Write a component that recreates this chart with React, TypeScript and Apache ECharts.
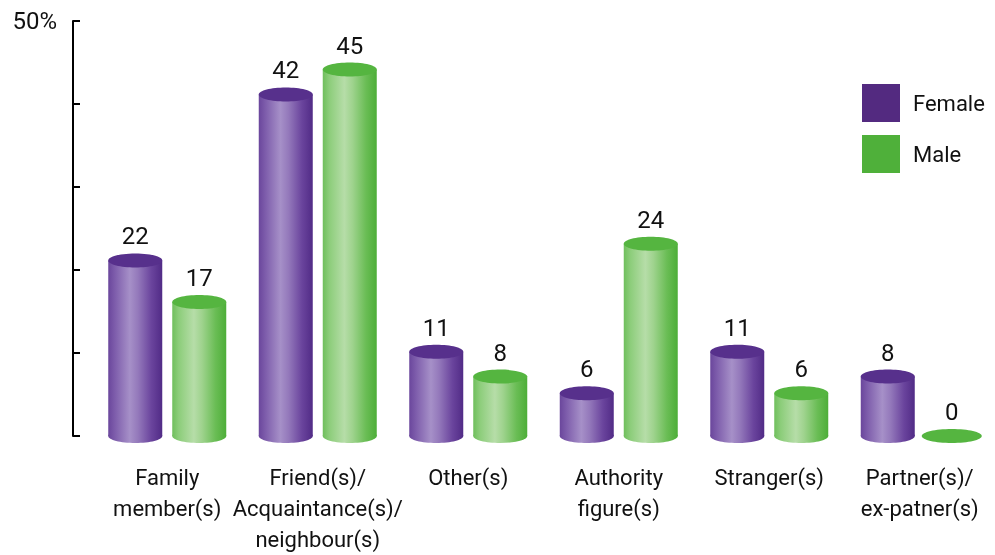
import React, { useEffect, useRef } from 'react';
import * as echarts from 'echarts';

const categories = [
  'Family\nmember(s)',
  'Friend(s)/\nAcquaintance(s)/\nneighbour(s)',
  'Other(s)',
  'Authority\nfigure(s)',
  'Stranger(s)',
  'Partner(s)/\nex-patner(s)',
];
const female = [22, 42, 11, 6, 11, 8];
const male = [17, 45, 8, 24, 6, 0];
const yMax = 50;
const yInterval = 10;

const FONT = 'Roboto, "Noto Sans", sans-serif';

const purple = {
  solid: '#532a80',
  top: '#57308c',
  stops: [
    [0, '#6a469c'],
    [0.12, '#7d5cab'],
    [0.4, '#a690c8'],
    [0.55, '#9479bb'],
    [0.8, '#6a449d'],
    [1, '#512b86'],
  ],
};
const green = {
  solid: '#4fb03a',
  top: '#55b540',
  stops: [
    [0, '#6fbf5c'],
    [0.12, '#8ccd7a'],
    [0.4, '#b6dda8'],
    [0.55, '#9fd38e'],
    [0.8, '#6abd55'],
    [1, '#4dae38'],
  ],
};

function grad(c: any) {
  return new echarts.graphic.LinearGradient(
    0,
    0,
    1,
    0,
    c.stops.map((s: any) => ({ offset: s[0], color: s[1] }))
  );
}

function makeRender(offset: number, c: any) {
  return (params: any, api: any) => {
    const idx = api.value(0);
    const v = api.value(1);
    const top = api.coord([idx, v]);
    const base = api.coord([idx, 0]);
    const bw = 54;
    const ry = 7;
    const cx = top[0] + offset;
    const children: any[] = [];
    if (v === 0) {
      children.push({
        type: 'ellipse',
        shape: { cx, cy: base[1], rx: bw / 2 + 3, ry },
        style: { fill: c.top },
      });
    } else {
      const topC = top[1] + ry;
      children.push({
        type: 'ellipse',
        shape: { cx, cy: base[1], rx: bw / 2, ry },
        style: { fill: grad(c) },
      });
      children.push({
        type: 'rect',
        shape: { x: cx - bw / 2, y: topC, width: bw, height: base[1] - topC },
        style: { fill: grad(c) },
      });
      children.push({
        type: 'ellipse',
        shape: { cx, cy: topC, rx: bw / 2, ry },
        style: { fill: c.top },
      });
    }
    children.push({
      type: 'text',
      style: {
        text: String(v),
        x: cx,
        y: (v === 0 ? base[1] - ry : top[1]) - 5,
        align: 'center',
        verticalAlign: 'bottom',
        fontSize: 24,
        fontFamily: FONT,
        fill: '#111',
      },
    });
    return { type: 'group', children };
  };
}

export default function App() {
  const ref = useRef<HTMLDivElement>(null);
  useEffect(() => {
    if (!ref.current) return;
    const chart = echarts.init(ref.current, null, { renderer: 'svg' });
    chart.setOption({
      animation: false,
      textStyle: { fontFamily: FONT },
      grid: { left: 92, right: 0, top: 21, bottom: 117, containLabel: false },
      legend: {
        orient: 'vertical',
        left: 862,
        top: 84,
        padding: 0,
        itemWidth: 38,
        itemHeight: 38,
        itemGap: 13,
        icon: 'rect',
        textStyle: { fontSize: 22, color: '#111', fontFamily: FONT, padding: [0, 0, 0, 8] },
        data: ['Female', 'Male'],
      },
      xAxis: {
        type: 'category',
        data: categories,
        axisLine: { show: false },
        axisTick: { show: false },
        axisLabel: {
          interval: 0,
          fontSize: 22,
          lineHeight: 31,
          color: '#111',
          margin: 26,
          fontFamily: FONT,
          verticalAlign: 'top',
        },
      },
      yAxis: {
        type: 'value',
        min: 0,
        max: yMax,
        interval: yInterval,
        offset: 19,
        splitLine: { show: false },
        axisLine: { show: true, lineStyle: { color: '#000', width: 2 } },
        axisTick: { show: true, inside: true, length: 7, lineStyle: { color: '#000', width: 2 } },
        axisLabel: {
          margin: 16,
          fontSize: 24,
          color: '#111',
          fontFamily: FONT,
          padding: [6, 0, 0, 0],
          formatter: (v: number) => (v === yMax ? '50%' : ''),
        },
      },
      series: [
        {
          name: 'Female',
          type: 'custom',
          itemStyle: { color: purple.solid },
          renderItem: makeRender(-32, purple),
          encode: { x: 0, y: 1 },
          data: female.map((v, i) => [i, v]),
        },
        {
          name: 'Male',
          type: 'custom',
          itemStyle: { color: green.solid },
          renderItem: makeRender(32, green),
          encode: { x: 0, y: 1 },
          data: male.map((v, i) => [i, v]),
        },
      ],
    });
    return () => chart.dispose();
  }, []);
  return (
    <div
      ref={ref}
      style={{ position: 'fixed', left: 0, top: 0, width: 995, height: 555 }}
    />
  );
}
